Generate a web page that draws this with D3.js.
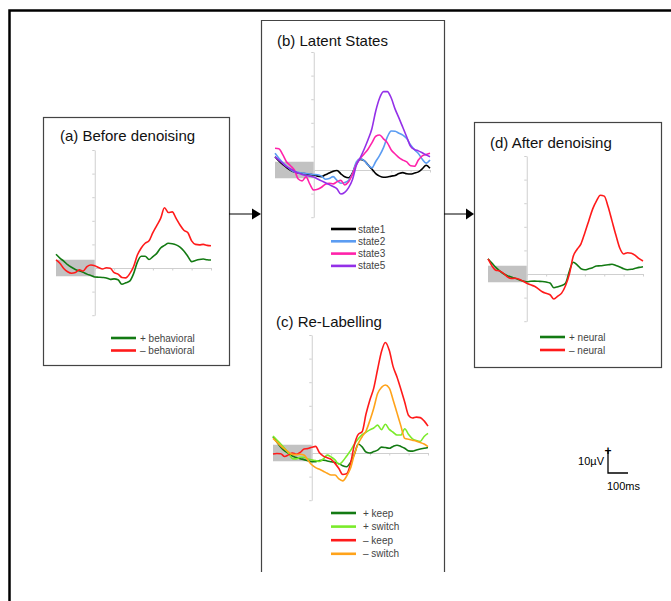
<!DOCTYPE html>
<html>
<head>
<meta charset="utf-8">
<script src="https://cdn.jsdelivr.net/npm/d3@7"></script>
<style>
  body { margin: 0; background: #fff; }
  svg { display: block; font-family: "Liberation Sans", Arial, sans-serif; }
</style>
</head>
<body>
<div id="chart"></div>
<script>
// time axis (ms), shared by every series
var times = [-200,-180,-160,-140,-120,-100,-80,-60,-40,-20,0,20,40,60,80,100,120,140,160,180,200,
  220,240,260,280,300,320,340,360,380,400,420,440,460,480,500,520,540,560,580,600];

// (a) before denoising
var behavPlus  = [5.8,4.2,2.9,1.4,0.3,-0.6,-1.2,-1.8,-2.6,-3.2,-3.8,-3.9,-4.0,-4.2,-4.8,-4.6,-5.0,-6.9,-6.3,-5.6,-2.5,
  2.5,5.0,5.0,3.6,4.8,6.2,8.5,9.6,10.5,10.3,9.8,8.8,7.2,5.0,2.7,3.2,3.6,3.8,3.5,3.4];
var behavMinus = [3.4,2.0,-0.2,-1.6,-2.2,-1.9,-0.8,-1.3,0.6,1.3,1.0,0.2,-0.4,0.1,-0.1,-2.0,-2.6,-4.0,-4.2,-2.5,0.5,
  5.5,8.5,10.5,11.5,15.0,18.0,21.0,25.5,23.5,23.8,21.0,18.2,16.0,15.0,11.5,10.0,9.8,10.0,9.6,9.4];

// (b) latent states
var state1 = [5.6,3.8,2.4,1.0,-0.1,-0.8,-1.2,-1.5,-1.6,-1.9,-2.1,-2.6,-2.8,-2.0,-1.3,-0.5,-0.2,-1.6,-2.9,-3.3,-1.2,
  2.6,4.5,4.0,2.2,0.4,-1.5,-2.6,-3.1,-3.0,-2.6,-2.3,-1.5,-1.1,-1.6,-1.7,-1.3,-0.8,0.5,2.0,0.7];
var state2 = [7.1,5.0,3.2,1.6,0.2,-0.8,-1.0,-1.3,-1.5,-1.7,-1.9,-2.0,-2.6,-3.9,-3.6,-2.8,-4.4,-5.6,-5.3,-4.4,-1.5,
  3.4,4.7,4.0,2.2,0.9,3.6,6.2,9.5,14.0,16.5,16.4,15.6,14.8,13.3,10.6,8.6,7.0,4.6,2.9,4.2];
var state3 = [9.2,9.0,6.5,3.4,1.8,0.0,-3.8,-4.6,-2.9,-6.0,-8.5,-8.2,-7.3,-6.0,-5.6,-5.9,-5.0,-4.4,-6.3,-5.0,-1.8,
  2.4,5.0,6.8,8.8,11.5,14.3,14.8,13.2,11.5,8.5,6.8,5.2,4.2,3.4,1.8,1.6,4.2,6.0,6.6,7.1];
var state5 = [5.6,4.2,2.8,1.4,0.4,-0.5,-1.3,-1.9,-2.3,-2.6,-3.0,-3.8,-4.6,-5.4,-6.2,-7.0,-8.0,-10.2,-9.5,-7.5,-4.0,
  2.0,5.2,8.8,12.8,17.5,25.0,30.5,33.2,33.2,30.5,25.8,22.0,18.0,14.0,10.0,8.7,8.1,7.3,6.4,5.6];

// (c) re-labelling
var keepPlus    = [6.9,4.6,2.5,0.9,-0.2,-1.3,-1.9,-2.4,-2.8,-3.3,-3.7,-3.7,-3.2,-3.0,-3.4,-3.7,-4.0,-4.5,-5.4,-5.8,-4.0,
  -0.5,3.8,2.6,0.4,0.0,0.6,1.2,2.5,2.3,2.0,2.8,3.3,2.8,2.0,0.9,0.8,1.3,1.7,2.0,2.3];
var switchPlus  = [7.2,5.5,3.8,2.0,0.0,-2.4,-2.5,-1.8,-1.8,-2.5,-2.9,-3.2,-3.6,-2.5,-0.9,-1.7,-2.9,-4.8,-3.5,-1.3,1.0,
  3.7,6.0,7.8,8.8,9.8,10.6,11.8,9.9,12.2,10.0,8.8,7.6,7.6,10.3,7.8,6.0,5.3,4.9,7.0,8.3];
var keepMinus   = [-0.4,-0.2,-0.3,-1.5,-0.8,0.0,-0.5,0.2,1.7,1.9,2.4,2.8,0.1,-1.3,-2.0,-2.7,-4.4,-6.6,-9.1,-8.8,-4.5,
  3.5,7.9,9.0,16.5,22.5,27.5,35.5,43.0,46.8,43.5,36.6,32.2,27.0,21.5,15.9,14.8,15.2,15.0,13.6,11.4];
var switchMinus = [6.2,4.6,3.0,1.6,0.4,-0.6,-0.7,-0.5,-0.8,-3.0,-5.0,-6.2,-6.9,-7.7,-8.6,-9.3,-9.3,-11.0,-11.8,-9.8,-6.5,
  -0.5,4.0,6.9,9.3,13.8,19.0,25.2,27.8,28.8,27.5,22.5,17.0,11.5,6.2,5.8,5.4,5.0,4.5,3.8,2.7];

// (d) after denoising
var neuralPlus  = [6.4,4.6,2.8,1.3,0.1,-0.7,-1.3,-1.8,-2.4,-3.0,-3.3,-3.1,-3.0,-3.1,-3.2,-3.4,-3.8,-5.8,-5.4,-4.9,-3.9,
  1.2,5.0,3.9,2.2,1.8,2.2,2.7,3.4,3.5,3.7,3.9,4.1,3.6,3.0,2.2,1.8,2.0,2.4,2.8,3.1];
var neuralMinus = [6.4,3.5,1.6,1.3,0.3,-1.2,-1.9,-1.8,-2.2,-3.0,-3.9,-4.6,-5.2,-6.3,-7.5,-8.2,-8.8,-10.6,-9.4,-8.1,-5.0,
  0.0,7.5,10.5,12.8,17.5,22.5,27.5,31.0,33.4,33.0,28.5,22.5,16.5,11.0,8.5,9.0,8.8,7.9,6.5,5.5];

var xTicks = [0,100,200,300,400,500,600];
var yTicks = [-20,-10,10,20,30,40,50];
var baselineBand = [-200, 0, -3.5, 3.5];

var colors = {
  dkgreen: "#137a13", red: "#ff1a1a", black: "#000000", blue: "#5b9cf2",
  pink: "#ff22aa", purple: "#9430e8", ltgreen: "#7aeb2a", orange: "#ffa31a"
};

var panels = [
  { title: "(a) Before denoising", box: [43, 117, 186, 248], x0: 56, zeroY: 268, titleX: 60, titleY: 141,
    legX: 111, legY: 338, legStep: 12.5, legTextX: 140,
    series: [
      { name: "+ behavioral", values: behavPlus, color: colors.dkgreen },
      { name: "\u2013 behavioral", values: behavMinus, color: colors.red }
    ] },
  { title: "(b) Latent States", box: [261, 20, 183, 552], open: true, x0: 275, zeroY: 170, titleX: 277, titleY: 46,
    legX: 331, legY: 229, legStep: 12.3, legTextX: 358,
    series: [
      { name: "state1", values: state1, color: colors.black },
      { name: "state2", values: state2, color: colors.blue },
      { name: "state3", values: state3, color: colors.pink },
      { name: "state5", values: state5, color: colors.purple }
    ] },
  { title: "(c) Re-Labelling", x0: 273, zeroY: 453, titleX: 276, titleY: 327,
    legX: 331, legY: 513, legStep: 13.6, legTextX: 363,
    series: [
      { name: "+ keep", values: keepPlus, color: colors.dkgreen },
      { name: "+ switch", values: switchPlus, color: colors.ltgreen },
      { name: "\u2013 keep", values: keepMinus, color: colors.red },
      { name: "\u2013 switch", values: switchMinus, color: colors.orange }
    ] },
  { title: "(d) After denoising", box: [474, 122, 187, 245], x0: 488, zeroY: 274, titleX: 490, titleY: 148,
    legX: 540, legY: 337, legStep: 13, legTextX: 569,
    series: [
      { name: "+ neural", values: neuralPlus, color: colors.dkgreen },
      { name: "\u2013 neural", values: neuralMinus, color: colors.red }
    ] }
];

var width = 671, height = 601;
var pxPerMs = 155 / 800, pxPerUv = 2.36;

var svg = d3.select("#chart").append("svg")
  .attr("width", width)
  .attr("height", height);

svg.append("rect").attr("width", width).attr("height", height).attr("fill", "#fff");

// outer frame (runs off the page on the right and bottom)
svg.append("path")
  .attr("d", "M9.5," + (height + 5) + "V10.5H" + (width + 5))
  .attr("fill", "none").attr("stroke", "#000").attr("stroke-width", 2.5);

panels.forEach(function (p) {
  var g = svg.append("g");

  if (p.box) {
    var b = p.box;
    if (p.open) {
      g.append("path")
        .attr("d", "M" + (b[0] + 0.5) + "," + (b[1] + b[3]) + "V" + (b[1] + 0.5) + "H" + (b[0] + b[2] + 0.5) + "V" + (b[1] + b[3]))
        .attr("fill", "none").attr("stroke", "#444").attr("stroke-width", 1.2);
    } else {
      g.append("rect")
        .attr("x", b[0] + 0.5).attr("y", b[1] + 0.5)
        .attr("width", b[2]).attr("height", b[3])
        .attr("fill", "none").attr("stroke", "#444").attr("stroke-width", 1.2);
    }
  }

  var x = d3.scaleLinear().domain([-200, 600]).range([p.x0, p.x0 + 800 * pxPerMs]);
  var y = d3.scaleLinear().domain([0, 50]).range([p.zeroY, p.zeroY - 50 * pxPerUv]);

  // baseline band
  g.append("rect")
    .attr("x", x(baselineBand[0])).attr("width", x(baselineBand[1]) - x(baselineBand[0]))
    .attr("y", y(baselineBand[3])).attr("height", y(baselineBand[2]) - y(baselineBand[3]))
    .attr("fill", "#c2c2c2");

  // axes
  var xPost = x.copy().domain([0, 600]).range([x(0), x(600)]);
  var xAxis = g.append("g")
    .attr("transform", "translate(0," + y(0) + ")")
    .call(d3.axisBottom(xPost).tickValues(xTicks).tickSize(2.5).tickFormat("").tickSizeOuter(0));
  var yAxis = g.append("g")
    .attr("transform", "translate(" + x(0) + ",0)")
    .call(d3.axisLeft(y.copy().domain([-20, 50]).range([y(-20), y(50)])).tickValues(yTicks).tickSize(2.5).tickFormat("").tickSizeOuter(0));
  [xAxis, yAxis].forEach(function (a) {
    a.selectAll("path, line").attr("stroke", "#cfcfcf").attr("stroke-width", 1);
  });

  var line = d3.line()
    .x(function (d, i) { return x(times[i]); })
    .y(function (d) { return y(d); })
    .curve(d3.curveMonotoneX);

  p.series.forEach(function (s) {
    g.append("path")
      .attr("d", line(s.values))
      .attr("fill", "none")
      .attr("stroke", s.color)
      .attr("stroke-width", 1.6)
      .attr("stroke-linejoin", "round");
  });

  g.append("text")
    .attr("x", p.titleX).attr("y", p.titleY)
    .attr("font-size", 15).attr("fill", "#111")
    .text(p.title);

  // legend
  p.series.forEach(function (s, i) {
    var ly = p.legY + i * p.legStep;
    g.append("line")
      .attr("x1", p.legX).attr("x2", p.legX + 25)
      .attr("y1", ly).attr("y2", ly)
      .attr("stroke", s.color).attr("stroke-width", 2.6);
    g.append("text")
      .attr("x", p.legTextX).attr("y", ly + 3.5)
      .attr("font-size", 10).attr("fill", "#444")
      .text(s.name);
  });
});

// arrows between panels
[[229, 252, 261], [444, 466, 474]].forEach(function (a) {
  svg.append("line").attr("x1", a[0]).attr("x2", a[1]).attr("y1", 214).attr("y2", 214)
    .attr("stroke", "#000").attr("stroke-width", 1);
  svg.append("path")
    .attr("d", "M" + a[1] + ",208.5L" + a[2] + ",214L" + a[1] + ",219.5Z")
    .attr("fill", "#000");
});

// scale bar
var sbX = 608, sbY = 473;
svg.append("path")
  .attr("d", "M" + sbX + "," + (sbY - 10 * 2.2) + "V" + sbY + "H" + (sbX + 100 * 0.2))
  .attr("fill", "none").attr("stroke", "#000").attr("stroke-width", 1.3);
svg.append("text").attr("x", sbX).attr("y", 455).attr("text-anchor", "middle")
  .attr("font-size", 12).attr("font-weight", "bold").text("+");
svg.append("text").attr("x", sbX - 4).attr("y", 465).attr("text-anchor", "end")
  .attr("font-size", 11).text("10\u00b5V");
svg.append("text").attr("x", sbX - 1).attr("y", 490)
  .attr("font-size", 11).text("100ms");
</script>
</body>
</html>
